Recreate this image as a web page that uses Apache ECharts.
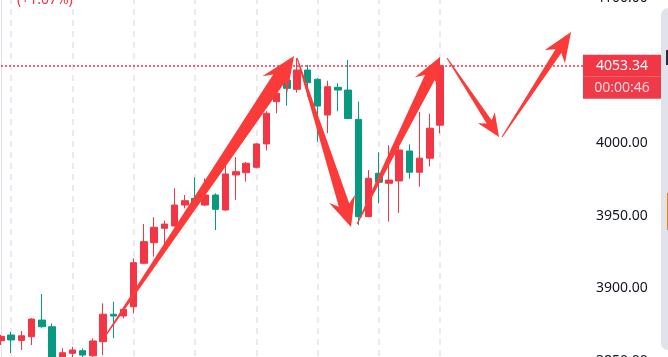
<!DOCTYPE html>
<html>
<head>
<meta charset="utf-8">
<script src="https://cdn.jsdelivr.net/npm/echarts@6/dist/echarts.min.js"></script>
<style>
html,body{margin:0;padding:0;background:#fff;}
#chart{width:668px;height:357px;}
</style>
</head>
<body>
<div id="chart"></div>
<script>
// ---- data ----
const opens  = [3864,3867.9,3864.2,3866.7,3878.2,3873.6,3852,3855.3,3857.1,3853.6,3863.3,3882.2,3881.0,3887.4,3917.3,3931.5,3941.4,3943,3957.4,3962,3957.4,3964.3,3954,3978.1,3979.7,3983.4,3999.5,4028.6,4043.5,4037.1,4050.4,4044,4019.4,4038.5,4036.6,4016.4,3949.4,3979.3,3972.4,3974,3994.6,3980,3989.7,4012.4];
const closes = [3867,3864.5,3867.4,3878.9,3873.6,3849,3855.7,3857.6,3854.1,3863.8,3882.2,3881.0,3885.6,3917.7,3932.2,3942.1,3944.3,3957.4,3960.4,3958,3964.3,3954.5,3978.8,3980.4,3986.2,3999.5,4020.6,4034.4,4037.8,4050.4,4041.7,4025.6,4038.9,4036.6,4017,3949.4,3975.8,3973.1,3974.6,3995.3,3980,3989.7,4010.3,4053.34];
const lows   = [3861,3855.5,3857.6,3861.0,3872.9,3846,3850,3852,3851,3852,3854,3865.7,3879.4,3882.8,3917,3921.8,3926.4,3942.5,3955.2,3956,3956.8,3940.2,3953.5,3960.9,3973.5,3982.7,3995,4020.6,4026,4034.8,4032,4001,4006.9,4022,4016.5,3943.7,3949,3958.6,3946,3952,3975.5,3970,3984,4006.8];
const highs  = [3868,3870,3870.6,3879.4,3896.1,3875.9,3858.7,3859.8,3858.7,3865.6,3889.7,3890.8,3886.3,3920.7,3944.3,3949,3946.6,3968.9,3964.3,3976.5,3975.8,3965.5,3985,3990.3,3987,4000,4022,4036.6,4044,4058.5,4053.9,4044.7,4043,4041.3,4057.3,4028.6,3981.5,3993.7,3998.7,3998.7,3999.2,4021.4,4020.3,4059];
const futureSlots = 14;
const categories = Array.from({length: opens.length + futureSlots}, (_, i) => String(i));
const yTicks = [3850, 3900, 3950, 4000, 4050, 4100];
const lastPrice = 4053.34;
const countdown = '00:00:46';
const changeText = '(+1.07%)';
// annotation arrows: [startIndex, startPrice] -> [endIndex, endPrice]
const arrowStarts = [[9.89,3863.8],[29.0,4058.7],[34.87,3944.4],[43.68,4058.7],[49.07,4004.3]];
const arrowEnds   = [[28.7,4060.0],[34.28,3942.3],[43.0,4059.4],[48.78,4004.3],[55.83,4076.6]];

// ---- styles ----
const UP = '#F23645', DOWN = '#089981', ARROW = '#fb3a3a';
const arrowShapes = [ // shaftWidth, headWidth, headLength
  [14, 30, 27], [11, 27, 23], [11, 27, 23], [6, 20, 18], [7, 24, 23]
];

const candleData = opens.map((o, i) => [o, closes[i], lows[i], highs[i]]);
const arrowData = arrowStarts.map((s, i) => [s[0], s[1], arrowEnds[i][0], arrowEnds[i][1], i]);

const chart = echarts.init(document.getElementById('chart'), null, {renderer: 'canvas'});
chart.setOption({
  animation: false,
  backgroundColor: '#ffffff',
  grid: {left: 1, right: 85, top: -2, bottom: -4, containLabel: false, outerBoundsMode: 'none'},
  xAxis: [{
    type: 'category', data: categories, boundaryGap: false,
    axisLine: {show: false}, axisTick: {show: false}, axisLabel: {show: false},
    splitLine: {
      show: true,
      interval: (idx) => idx % 6 === 1 && idx < opens.length,
      lineStyle: {color: '#e3e5ec', width: 1.5, type: [6, 5]}
    }
  }, {
    type: 'value', min: 0, max: categories.length - 1, show: false
  }],
  yAxis: {
    type: 'value', position: 'right', min: yTicks[0], max: yTicks[yTicks.length - 1], interval: 50,
    axisLine: {show: true, lineStyle: {color: '#e0e3eb', width: 1}},
    axisTick: {show: false},
    splitLine: {show: false},
    axisLabel: {
      show: true, margin: 13, color: '#131722', fontSize: 14, fontFamily: 'Noto Sans',
      showMinLabel: true, showMaxLabel: true,
      formatter: (v) => v.toFixed(2)
    }
  },
  series: [{
    type: 'candlestick',
    data: candleData,
    barWidth: 7,
    itemStyle: {color: UP, color0: DOWN, borderColor: UP, borderColor0: DOWN, borderWidth: 1},
    markLine: {
      silent: true, symbol: ['none', 'none'],
      lineStyle: {color: UP, type: [2, 2], width: 1.5, opacity: 1},
      data: [{yAxis: lastPrice, lineStyle: {color: UP, type: [2, 2], width: 1.5}}],
      label: {
        show: true, position: 'end', distance: 0,
        formatter: '{e| }\n{p|' + lastPrice.toFixed(2) + '}\n{t|' + countdown + '}',
        rich: {
          e: {height: 22, width: 78, fontSize: 14},
          p: {height: 22, width: 78, align: 'center', backgroundColor: UP, color: '#ffffff', fontSize: 14, fontFamily: 'Noto Sans'},
          t: {height: 22, width: 78, align: 'center', backgroundColor: '#ef3a4a', color: '#ffd3d7', fontSize: 14, fontFamily: 'Noto Sans'}
        }
      }
    },
    z: 2
  }, {
    type: 'custom',
    xAxisIndex: 1,
    yAxisIndex: 0,
    clip: false,
    z: 5,
    data: arrowData,
    renderItem: (params, api) => {
      const a = api.coord([api.value(0), api.value(1)]);
      const b = api.coord([api.value(2), api.value(3)]);
      const s = arrowShapes[api.value(4)];
      const ws = s[0], hw = s[1], hl = s[2], wt = 1;
      const dx = b[0] - a[0], dy = b[1] - a[1];
      const len = Math.sqrt(dx * dx + dy * dy);
      const ux = dx / len, uy = dy / len, nx = -uy, ny = ux;
      const neck = [b[0] - ux * hl, b[1] - uy * hl];
      const back = hl * 0.28;
      const pts = [
        [a[0] + nx * wt / 2, a[1] + ny * wt / 2],
        [neck[0] + nx * ws / 2, neck[1] + ny * ws / 2],
        [neck[0] + nx * hw / 2 - ux * back, neck[1] + ny * hw / 2 - uy * back],
        [b[0], b[1]],
        [neck[0] - nx * hw / 2 - ux * back, neck[1] - ny * hw / 2 - uy * back],
        [neck[0] - nx * ws / 2, neck[1] - ny * ws / 2],
        [a[0] - nx * wt / 2, a[1] - ny * wt / 2]
      ];
      return {type: 'polygon', shape: {points: pts}, style: {fill: ARROW}};
    }
  }],
  graphic: [
    {type: 'text', left: 17, top: -7, style: {text: changeText, fill: UP, font: '14px "Noto Sans"'}},
    {type: 'rect', shape: {x: 661, y: 8, width: 14, height: 342, r: 7}, style: {fill: '#e0e3eb'}},
    {type: 'rect', shape: {x: 666, y: 50, width: 3, height: 15}, style: {fill: '#2a2e39'}},
    {type: 'rect', shape: {x: 667, y: 193, width: 2, height: 37}, style: {fill: '#f57c00'}}
  ]
});
</script>
</body>
</html>
